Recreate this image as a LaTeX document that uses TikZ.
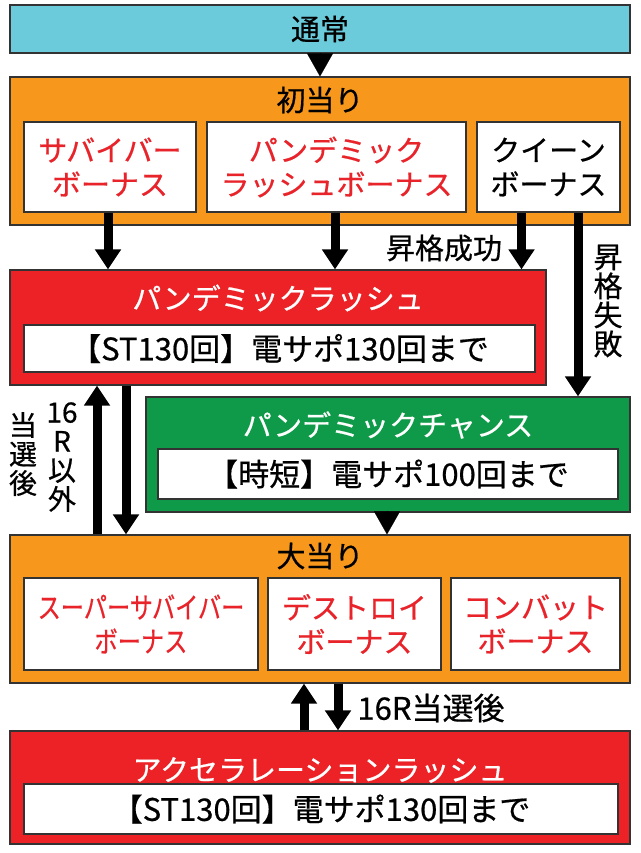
\documentclass[tikz,border=0pt]{standalone}
\usepackage{fontspec}
\setmainfont{Noto Sans CJK JP}[FakeBold=0.6]
\usetikzlibrary{arrows.meta}

\definecolor{tsujocol}{HTML}{6CCBDB}
\definecolor{orangecol}{HTML}{F7981D}
\definecolor{redcol}{HTML}{EC2227}
\definecolor{greencol}{HTML}{0E9A48}
\definecolor{redtext}{HTML}{E8232A}

\tikzset{
  panel/.style={draw=black!80, line width=1.2pt, rectangle, inner sep=0pt},
  innerbox/.style={panel, fill=white, align=center, font=\fontsize{29}{34}\selectfont},
  sapobox/.style={panel, fill=white, font=\fontsize{31}{34}\selectfont},
  title/.style={font=\fontsize{29}{34}\selectfont, inner sep=0pt},
  lbl/.style={font=\fontsize{29}{29}\selectfont, inner sep=0pt, align=center},
  bigarrow/.style={line width=9pt, -{Triangle[width=25pt,length=20pt]}},
  tiponly/.style={line width=0.1pt, -{Triangle[width=26pt,length=23pt]}}
}

\begin{document}
\begin{tikzpicture}[x=1pt, y=-1pt]
				\useasboundingbox (0,0) rectangle (640,853);
				
				% outer panels
				\node (tsujo) [panel, fill=tsujocol, minimum width=620pt, minimum height=48pt] at (320,29) {};
				\node (hatsu) [panel, fill=orangecol, minimum width=620pt, minimum height=148pt] at (320,151) {};
				\node (prush) [panel, fill=redcol, minimum width=536pt, minimum height=115pt] at (278,327.5) {};
				\node (chance) [panel, fill=greencol, minimum width=484pt, minimum height=115pt] at (388,454.5) {};
				\node (oatari) [panel, fill=orangecol, minimum width=620pt, minimum height=148pt] at (320,609) {};
				\node (arush) [panel, fill=redcol, minimum width=620pt, minimum height=113pt] at (320,787.5) {};
				
				% titles
				\node (tsujot) [title] at (320,29) {通常};
				\node (hatsut) [title] at (320,100) {初当り};
				\node (prusht) [title, text=white] at (278,298) {パンデミックラッシュ};
				\node (chancet) [title, text=white] at (388,425) {パンデミックチャンス};
				\node (oatarit) [title] at (320,556) {大当り};
				\node (arusht) [title, text=white] at (320,770) {アクセラレーションラッシュ};
				
				% inner boxes
				\node (sabai) [innerbox, text=redtext, minimum width=172pt, minimum height=90pt] at (110,167) {サバイバー\\ボーナス};
				\node (pandb) [innerbox, text=redtext, minimum width=259pt, minimum height=90pt] at (336.5,167) {パンデミック\\ラッシュボーナス};
				\node (queen) [innerbox, minimum width=143pt, minimum height=90pt] at (548.5,167) {クイーン\\ボーナス};
				\node (prushst) [sapobox, minimum width=511pt, minimum height=47pt] at (279.5,348.5) {【ST130回】電サポ130回まで};
				\node (chancejt) [sapobox, minimum width=460pt, minimum height=50pt] at (388,474) {【時短】電サポ100回まで};
				\node (super) [innerbox, text=redtext, minimum width=234pt, minimum height=92pt] at (141,624) {\scalebox{0.8}[1]{スーパーサバイバー}\\\scalebox{0.8}[1]{ボーナス}};
				\node (destroy) [innerbox, text=redtext, minimum width=173pt, minimum height=92pt] at (354.5,624) {デストロイ\\ボーナス};
				\node (combat) [innerbox, text=redtext, minimum width=169pt, minimum height=92pt] at (535.5,624) {コンバット\\ボーナス};
				\node (arushst) [sapobox, minimum width=594pt, minimum height=50pt] at (321,809) {【ST130回】電サポ130回まで};
				
				% labels
				\node (upok) [lbl] at (444,248) {昇格成功};
				\node (upng) [lbl, text width=30pt] at (608,301) {昇\\格\\失\\敗};
				\node (tosen) [lbl, text width=30pt] at (23,454) {\fontsize{28}{29}\selectfont 当\\選\\後};
				\node (igai) [lbl, text width=34pt] at (62,457) {\fontsize{28}{29}\selectfont 16\\R\\以\\外};
				\node (sixteen) [lbl, font=\fontsize{31}{31}\selectfont] at (431,708) {16R当選後};
				
				% Arrows
				\draw[tiponly] (tsujo.south) -- (hatsu.north);
				\draw[bigarrow] ([xshift=-2pt]sabai.south) -- ([xshift=-2pt]sabai.south |- prush.north);
				\draw[bigarrow] ([xshift=-1.5pt]pandb.south) -- ([xshift=-1.5pt]pandb.south |- prush.north);
				\draw[bigarrow] ([xshift=-27pt]queen.south) -- ([xshift=-27pt]queen.south |- prush.north);
				\draw[bigarrow] ([xshift=29.5pt]queen.south) -- ([xshift=29.5pt]queen.south |- chance.north);
				\draw[bigarrow] ([xshift=-223pt]oatari.north) -- ([xshift=-223pt]oatari.north |- prush.south);
				\draw[bigarrow] ([xshift=-152pt]prush.south) -- ([xshift=-152pt]prush.south |- oatari.north);
				\draw[tiponly] ([xshift=-1pt]chance.south) -- ([xshift=-1pt]chance.south |- oatari.north);
				\draw[bigarrow] ([xshift=-16pt]arush.north) -- ([xshift=-16pt]arush.north |- oatari.south);
				\draw[bigarrow] ([xshift=18pt]oatari.south) -- ([xshift=18pt]oatari.south |- arush.north);
				
			\end{tikzpicture}
\end{document}
